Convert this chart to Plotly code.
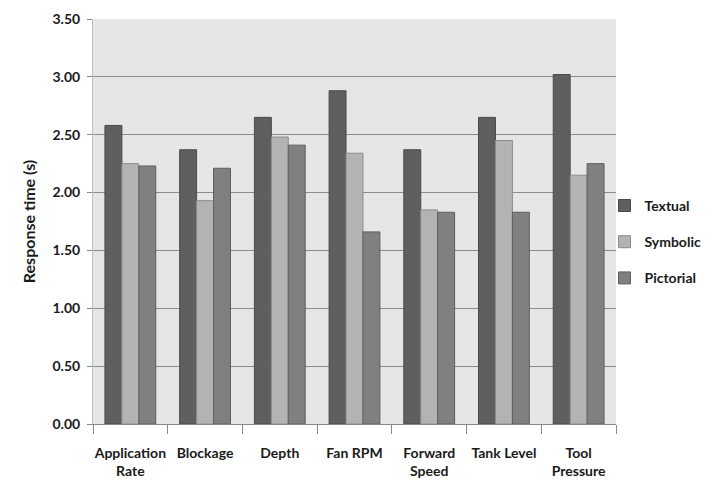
import plotly.graph_objects as go

categories = ["Application Rate", "Blockage", "Depth", "Fan RPM", "Forward Speed", "Tank Level", "Tool Pressure"]
tick_labels = ["Application<br>Rate", "Blockage", "Depth", "Fan RPM", "Forward<br>Speed", "Tank Level", "Tool<br>Pressure"]
textual = [2.58, 2.37, 2.65, 2.88, 2.37, 2.65, 3.02]
symbolic = [2.25, 1.93, 2.48, 2.34, 1.85, 2.45, 2.15]
pictorial = [2.23, 2.21, 2.41, 1.66, 1.83, 1.83, 2.25]
y_ticks = [0, 0.5, 1.0, 1.5, 2.0, 2.5, 3.0, 3.5]

series = [
    ("Textual", textual, "#5f5f5f", "#4a4a4a"),
    ("Symbolic", symbolic, "#b3b3b3", "#8c8c8c"),
    ("Pictorial", pictorial, "#808080", "#5e5e5e"),
]

font_family = "Lato, 'Open Sans', sans-serif"

fig = go.Figure()
for i, (name, vals, col, lcol) in enumerate(series):
    fig.add_trace(go.Bar(
        x=categories, y=vals, name=name,
        marker=dict(color=col, line=dict(color=lcol, width=1)),
        legendgroup=f"g{i}",
    ))

fig.update_layout(
    width=709, height=479,
    margin=dict(l=85, r=101, t=11, b=63, autoexpand=False),
    paper_bgcolor="white",
    plot_bgcolor="#e6e6e6",
    barmode="group",
    bargap=0.32,
    bargroupgap=0,
    font=dict(family=font_family, size=13, color="#1a1a1a", weight="bold"),
    showlegend=True,
    legend=dict(
        x=0.978, y=0.578, xanchor="left", yanchor="top",
        traceorder="grouped", tracegroupgap=15,
        font=dict(size=14, family=font_family, weight="bold", color="#1a1a1a"),
        itemwidth=30,
        bgcolor="rgba(0,0,0,0)",
    ),
    xaxis=dict(
        tickmode="array", tickvals=categories, ticktext=tick_labels,
        tickangle=0, automargin=False,
        ticks="outside", tickson="boundaries", ticklen=9, tickcolor="#888888",
        showline=True, linecolor="#888888", linewidth=1,
        showgrid=False,
        tickfont=dict(size=14, family=font_family, weight="bold"),
        ticklabelstandoff=16,
    ),
    yaxis=dict(
        range=[0, 3.5], tickvals=y_ticks, ticktext=[f"{v:.2f}" for v in y_ticks],
        automargin=False,
        ticks="outside", ticklen=5, tickcolor="#888888",
        showline=True, linecolor="#c0c0c0", linewidth=1,
        showgrid=True, gridcolor="#8c8c8c", gridwidth=1,
        zeroline=False,
        tickfont=dict(size=14, family=font_family, weight="bold"),
        ticklabelstandoff=4,
        title=dict(text="Response time (s)", standoff=12,
                   font=dict(size=16, family=font_family, weight="bold")),
    ),
)

fig.write_html("out.html")
